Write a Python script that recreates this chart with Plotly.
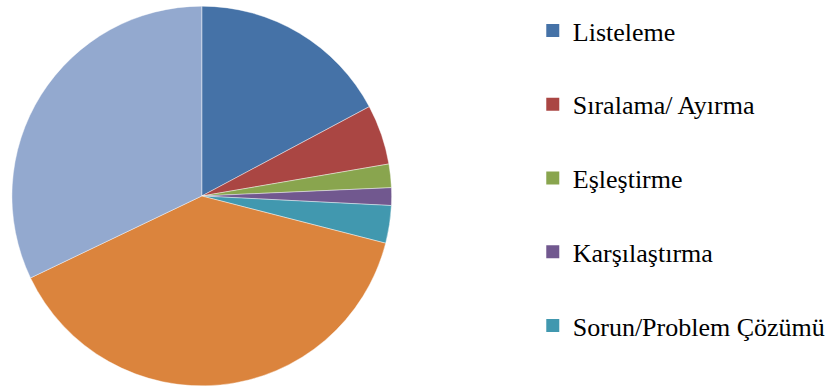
import plotly.graph_objects as go

# Slice order clockwise from 12 o'clock
labels = ["Listeleme", "Sıralama/ Ayırma", "Eşleştirme", "Karşılaştırma",
          "Sorun/Problem Çözümü", "Diğer 1", "Diğer 2"]
values = [17.2, 5.1, 2.0, 1.5, 3.2, 38.9, 32.1]
colors = ["#4572A7", "#AA4643", "#89A54E", "#71588F", "#4198AF", "#DB843D", "#93A9CF"]
legend_labels = labels[:5]

W, H = 831, 389

fig = go.Figure()
fig.add_trace(go.Pie(
    labels=labels, values=values, sort=False, direction="clockwise", rotation=0,
    marker=dict(colors=colors, line=dict(color="rgba(255,255,255,0.6)", width=0.7)),
    textinfo="none", hoverinfo="label+percent", showlegend=False,
    domain=dict(x=[12 / W, 394 / W], y=[2 / H, 384 / H]),
))

for i, name in enumerate(legend_labels):
    fig.add_trace(go.Scatter(
        x=[None], y=[None], mode="markers", name=name, legendgroup=f"g{i}",
        marker=dict(symbol="square", size=13, color=colors[i]),
        hoverinfo="skip",
    ))

fig.update_layout(
    width=W, height=H,
    margin=dict(l=0, r=0, t=0, b=0),
    paper_bgcolor="white", plot_bgcolor="white",
    xaxis=dict(visible=False), yaxis=dict(visible=False),
    font=dict(family="Liberation Serif, Times New Roman, serif", size=26, color="#000000"),
    legend=dict(x=536 / W, y=1 - 7 / H, xanchor="left", yanchor="top",
                tracegroupgap=37, bgcolor="rgba(0,0,0,0)",
                font=dict(size=26), itemsizing="trace"),
)

fig.write_html("out.html")
